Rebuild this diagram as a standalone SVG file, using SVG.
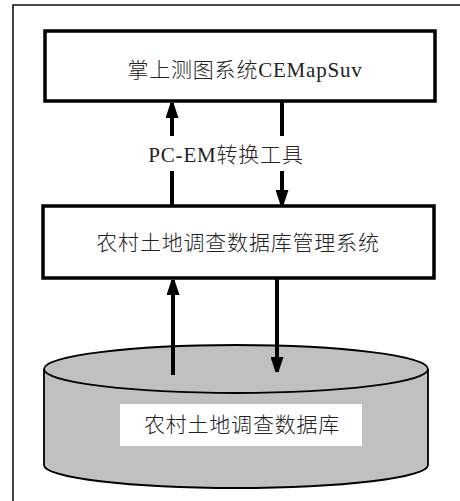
<svg xmlns="http://www.w3.org/2000/svg" width="460" height="501" viewBox="0 0 460 501">
<defs>
<style>
.box{fill:#fff;stroke:#000;stroke-width:3.5}
.t{font-family:"Liberation Serif","Noto Sans CJK SC",serif;font-size:21px;font-weight:300;fill:#222;text-anchor:middle;letter-spacing:0.8px}
.c{stroke:#000;stroke-width:4;fill:none}
.frame{stroke:#111;stroke-width:1.6;fill:none}
</style>
<marker id="ah" markerUnits="userSpaceOnUse" markerWidth="15" markerHeight="13" refX="15" refY="6.5" orient="auto" viewBox="0 0 15 13">
<path d="M0,0 L15,5 L15,8 L0,13 z" fill="#000"/>
</marker>
</defs>
<rect width="460" height="501" fill="#fff"/>
<path class="frame" d="M13,501 L13,5 L460,5"/>
<g id="node-cemapsuv">
<rect class="box" x="45" y="31" width="390" height="70"/>
<text class="t" x="245" y="77">掌上测图系统CEMapSuv</text>
</g>
<g id="node-system">
<rect class="box" x="43" y="206" width="391" height="72"/>
<text class="t" x="238" y="250">农村土地调查数据库管理系统</text>
</g>
<g id="node-db">
<path d="M44,369 L44,465 A192,23 0 0 0 428,465 L428,369" fill="#c0c0c0" stroke="#000" stroke-width="1.8"/>
<ellipse cx="236" cy="369" rx="192" ry="24" fill="#c0c0c0" stroke="#000" stroke-width="1.8"/>
<rect x="120" y="404" width="242" height="42" fill="#fff"/>
<text class="t" x="242" y="432">农村土地调查数据库</text>
</g>
<g id="connectors">
<line class="c" x1="172" y1="136" x2="172" y2="103" marker-end="url(#ah)"/>
<line class="c" x1="172" y1="206" x2="172" y2="171"/>
<line class="c" x1="282" y1="101" x2="282" y2="136"/>
<line class="c" x1="282" y1="171" x2="282" y2="205" marker-end="url(#ah)"/>
<line class="c" x1="173" y1="375" x2="173" y2="280" marker-end="url(#ah)"/>
<line class="c" x1="277" y1="278" x2="277" y2="372" marker-end="url(#ah)"/>
<text class="t" x="226" y="162">PC-EM转换工具</text>
</g>
</svg>
